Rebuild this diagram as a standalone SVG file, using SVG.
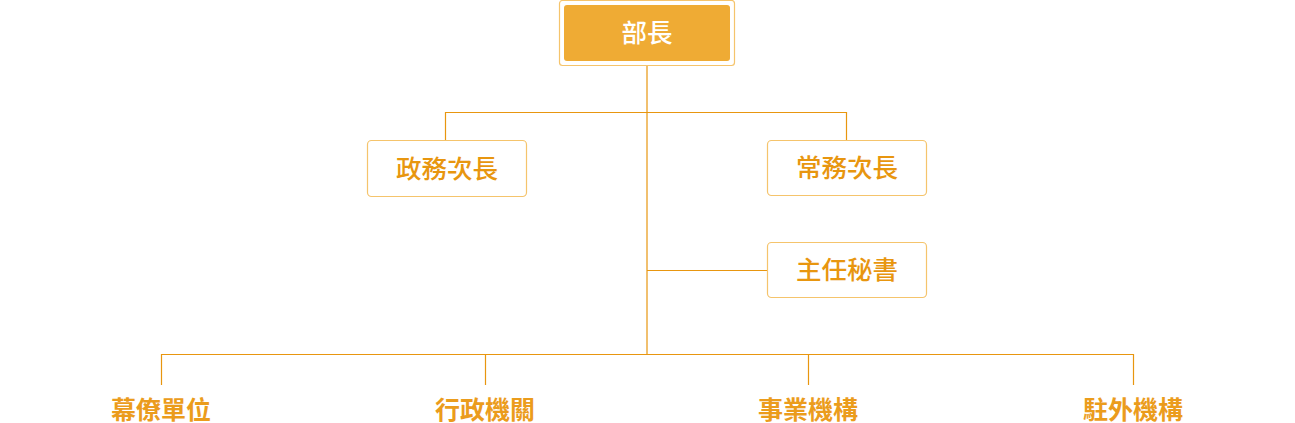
<svg xmlns="http://www.w3.org/2000/svg" width="1295" height="423" viewBox="0 0 1295 423">
<style>
.box{fill:#fff;stroke:#f5c46c;stroke-width:1.2}
.t{font-family:"Noto Sans CJK TC","Noto Sans CJK SC",sans-serif;font-size:25.5px;fill:#e8960f;text-anchor:middle;font-weight:500}
.b{font-weight:700;fill:#eb9c1c;font-size:25px}
.w{fill:#fff}
.ln{fill:none;stroke:#e8960f;stroke-width:1.2}
</style>
<g id="connectors" class="ln">
<path d="M647,66V354"/>
<path d="M445.5,140V112.5H846.5V140"/>
<path d="M647,270.5H767"/>
<path d="M161.5,385V354.5H1133.5V385"/>
<path d="M485.5,354.5V385M808.5,354.5V385"/>
</g>
<g id="n-minister">
<rect x="559.5" y="0.5" width="175" height="65" rx="3" class="box"/>
<rect x="564" y="5" width="166" height="56" rx="3" fill="#efab34"/>
<text x="647" y="42" class="t w">部長</text>
</g>
<g id="n-political">
<rect x="367.5" y="140.5" width="159" height="56" rx="4" class="box"/>
<text x="447" y="178" class="t">政務次長</text>
</g>
<g id="n-admin">
<rect x="767.5" y="140.5" width="159" height="55" rx="4" class="box"/>
<text x="847" y="177" class="t">常務次長</text>
</g>
<g id="n-secretary">
<rect x="767.5" y="242.5" width="159" height="55" rx="4" class="box"/>
<text x="847" y="279" class="t">主任秘書</text>
</g>
<g id="n-staff"><text x="161" y="419" class="t b">幕僚單位</text></g>
<g id="n-agencies"><text x="485" y="419" class="t b">行政機關</text></g>
<g id="n-business"><text x="808" y="419" class="t b">事業機構</text></g>
<g id="n-overseas"><text x="1133" y="419" class="t b">駐外機構</text></g>
</svg>
